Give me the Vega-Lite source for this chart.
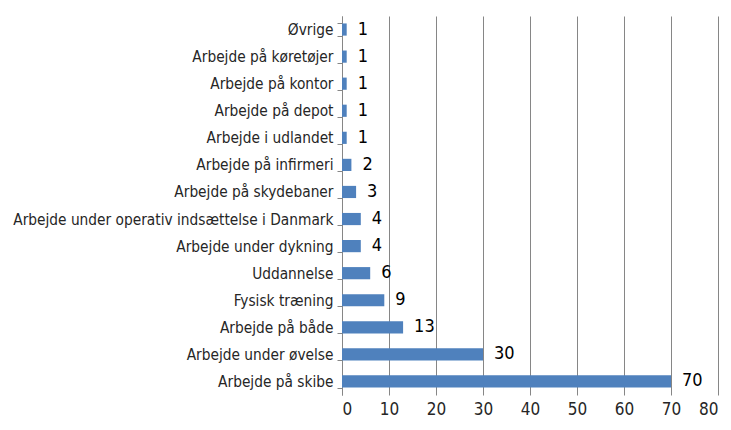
{
  "$schema": "https://vega.github.io/schema/vega-lite/v6.json",
  "width": 376,
  "height": 379,
  "autosize": {"type": "none"},
  "padding": {"left": 342, "top": 16, "right": 13, "bottom": 35},
  "background": "white",
  "config": {
    "view": {"stroke": null},
    "font": "DejaVu Sans Condensed, sans-serif"
  },
  "data": {
    "values": [
      {"kategori": "Øvrige", "antal": 1},
      {"kategori": "Arbejde på køretøjer", "antal": 1},
      {"kategori": "Arbejde på kontor", "antal": 1},
      {"kategori": "Arbejde på depot", "antal": 1},
      {"kategori": "Arbejde i udlandet", "antal": 1},
      {"kategori": "Arbejde på infirmeri", "antal": 2},
      {"kategori": "Arbejde på skydebaner", "antal": 3},
      {"kategori": "Arbejde under operativ indsættelse i Danmark", "antal": 4},
      {"kategori": "Arbejde under dykning", "antal": 4},
      {"kategori": "Uddannelse", "antal": 6},
      {"kategori": "Fysisk træning", "antal": 9},
      {"kategori": "Arbejde på både", "antal": 13},
      {"kategori": "Arbejde under øvelse", "antal": 30},
      {"kategori": "Arbejde på skibe", "antal": 70}
    ]
  },
  "encoding": {
    "y": {
      "field": "kategori",
      "type": "nominal",
      "sort": null,
      "scale": {"paddingInner": 0.55, "paddingOuter": 0.275},
      "axis": {
        "title": null,
        "domainColor": "#868686",
        "tickColor": "#868686",
        "tickSize": 5,
        "tickBand": "extent",
        "labelFontSize": 15.3,
        "labelColor": "#262626",
        "labelPadding": 4,
        "labelLimit": 400
      }
    },
    "x": {
      "field": "antal",
      "type": "quantitative",
      "scale": {"domain": [0, 80], "nice": false},
      "axis": {
        "title": null,
        "values": [0, 10, 20, 30, 40, 50, 60, 70, 80],
        "grid": true,
        "gridColor": "#868686",
        "gridOpacity": 1,
        "domain": false,
        "ticks": false,
        "labelFontSize": 17,
        "labelColor": "#262626",
        "labelPadding": 6
      }
    }
  },
  "layer": [
    {"mark": {"type": "bar", "color": "#4F81BD"}},
    {
      "mark": {"type": "text", "align": "left", "dx": 11, "fontSize": 18, "color": "#000000"},
      "encoding": {"text": {"field": "antal", "type": "quantitative"}}
    }
  ]
}
